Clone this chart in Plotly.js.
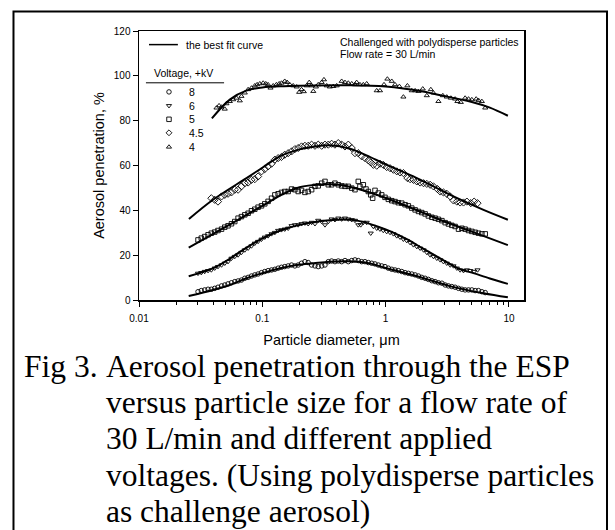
<!DOCTYPE html>
<html>
<head>
<meta charset="utf-8">
<script src="https://cdn.plot.ly/plotly-3.0.1.min.js"></script>
<style>html,body{margin:0;padding:0;background:#fff;}#chart{width:615px;height:530px;}</style>
</head>
<body>
<div id="chart"></div>
<script>
// ---- data (diameter in um, penetration in %) ----
const d8 = [0.0301,0.0320,0.0341,0.0363,0.0386,0.0411,0.0437,0.0467,0.0496,0.0527,0.0562,0.0598,0.0636,0.0677,0.0721,0.0767,0.0817,0.0869,0.0924,0.0985,0.1047,0.1114,0.1188,0.1264,0.1344,0.143,0.152,0.162,0.1727,0.1837,0.1954,0.208,0.2215,0.2355,0.251,0.2672,0.284,0.303,0.3222,0.3428,0.3648,0.388,0.4129,0.44,0.468,0.498,0.531,0.564,0.600,0.639,0.680,0.724,0.771,0.820,0.873,0.929,0.988,1.052,1.121,1.192,1.268,1.351,1.438,1.528,1.629,1.734,1.846,1.963,2.09,2.22,2.37,2.52,2.68,2.86,3.04,3.23,3.44,3.66,3.90,4.15,4.41,4.70,5.00,5.32,5.66,6.03,6.42];
const p8 = [3.7,4.2,4.5,4.8,4.8,5.2,5.7,6.3,6.7,7.2,7.7,8.2,8.5,8.9,9.7,10.1,10.7,11.2,11.6,12.2,12.7,13.1,13.4,13.7,14.2,14.6,14.9,15.2,15.6,15.2,15.6,16.4,17.1,16.7,15.6,15.2,14.9,15.2,15.6,17.1,17.4,17.1,17.4,17.1,17.6,17.1,17.6,17.9,17.6,17.1,17.1,16.7,16.4,16.1,15.6,15.2,14.9,14.2,13.7,13.4,13.1,12.7,12.2,11.9,11.6,11.2,10.7,10.1,9.7,9.2,8.6,8.2,7.7,7.5,6.7,6.3,6.0,5.7,5.2,4.8,4.5,4.5,4.5,4.2,4.2,3.7,3.3];

const d6 = [0.0301,0.0320,0.0341,0.0363,0.0386,0.0411,0.0437,0.0467,0.0496,0.0527,0.0562,0.0598,0.0636,0.0677,0.0721,0.0767,0.0817,0.0869,0.0924,0.0985,0.1047,0.1114,0.1188,0.1264,0.1344,0.143,0.152,0.162,0.1727,0.1837,0.1954,0.208,0.2215,0.2355,0.251,0.2672,0.284,0.303,0.3222,0.3428,0.3648,0.388,0.4129,0.44,0.468,0.498,0.531,0.564,0.600,0.628,0.659,0.702,0.757,0.795,0.847,0.900,0.957,1.02,1.086,1.156,1.231,1.310,1.393,1.482,1.579,1.680,1.79,1.905,2.03,2.157,2.296,2.44,2.60,2.77,2.94,3.13,3.34,3.55,3.78,4.02,4.28,4.56,4.85,5.22,5.56];
const p6 = [11.9,12.2,12.7,13.1,13.4,14.2,14.9,15.6,16.4,17.1,18.6,19.4,20.1,21.2,22.3,23.1,24.1,25.3,26.1,27.1,28.0,28.6,29.5,30.1,31.0,31.3,31.6,32.0,33.1,33.5,33.5,34.0,34.3,34.0,34.6,34.0,35.5,35.0,33.5,35.0,36.1,35.8,36.5,36.1,36.5,36.1,35.8,35.5,33.5,33.5,34.6,34.6,29.8,32.8,32.0,31.6,31.0,30.5,30.1,29.5,28.6,28.0,27.1,26.5,25.6,24.6,23.8,23.1,22.3,21.2,20.1,19.4,18.6,17.9,17.1,16.4,15.6,15.2,14.2,13.4,13.1,13.4,13.1,12.7,13.4];

const d5 = [0.0301,0.0320,0.0341,0.0363,0.0386,0.0411,0.0437,0.0467,0.0496,0.0527,0.0562,0.0598,0.0636,0.0677,0.0721,0.0767,0.0817,0.0869,0.0924,0.0985,0.1047,0.1114,0.1188,0.1264,0.1344,0.143,0.152,0.162,0.1727,0.1837,0.1954,0.208,0.2215,0.2355,0.251,0.2672,0.284,0.303,0.3222,0.3428,0.3648,0.388,0.4129,0.44,0.468,0.498,0.531,0.564,0.600,0.619,0.659,0.693,0.724,0.757,0.785,0.820,0.873,0.929,0.988,1.052,1.121,1.192,1.268,1.351,1.438,1.528,1.629,1.734,1.846,1.963,2.09,2.22,2.37,2.52,2.68,2.86,3.04,3.23,3.44,3.66,3.90,4.15,4.41,4.70,5.00,5.32,5.66,6.03,6.42];
const p5 = [26.8,27.6,28.3,29.1,29.8,30.3,31.0,31.6,32.5,33.1,34.0,35.0,36.5,37.2,38.0,38.7,39.8,40.5,41.4,42.0,42.9,44.0,45.4,46.9,47.4,48.0,48.4,48.4,49.5,49.2,48.4,48.9,48.0,48.4,49.2,50.7,50.9,52.1,52.9,51.4,51.4,52.1,51.4,50.9,50.7,50.7,49.9,49.2,52.9,50.7,51.4,49.5,48.4,46.9,45.4,48.9,47.7,46.9,45.8,44.9,44.3,43.9,43.4,43.2,42.5,42.0,41.0,40.2,39.5,39.0,38.4,37.5,36.9,36.5,36.0,35.4,34.5,33.9,33.3,32.8,31.6,32.0,31.6,31.0,30.6,30.2,29.8,29.5,29.5];

const d45 = [0.0386,0.0411,0.0437,0.0467,0.0496,0.0527,0.0562,0.0598,0.0636,0.0677,0.0721,0.0767,0.0817,0.0869,0.0924,0.0985,0.1047,0.1114,0.1188,0.1264,0.1344,0.143,0.152,0.162,0.1727,0.1837,0.1954,0.208,0.2215,0.2355,0.251,0.2672,0.284,0.303,0.3222,0.3428,0.3648,0.388,0.4129,0.44,0.468,0.498,0.531,0.564,0.600,0.639,0.680,0.724,0.757,0.795,0.847,0.900,0.957,1.02,1.086,1.156,1.231,1.310,1.393,1.501,1.579,1.680,1.79,1.905,2.03,2.157,2.296,2.44,2.63,2.77,2.94,3.13,3.34,3.55,3.78,4.02,4.28,4.56,4.91,5.22,5.56];
const p45 = [45.4,44.7,43.9,46.2,46.9,47.4,48.0,49.2,49.2,50.7,52.1,52.4,53.6,53.9,55.1,57.4,58.4,59.6,60.8,62.6,63.3,63.8,64.8,65.5,66.3,67.3,67.8,68.5,68.8,68.8,69.3,68.8,69.3,68.8,69.3,69.3,69.7,69.3,70.0,69.3,68.5,69.3,67.8,65.5,65.5,64.1,63.3,62.3,61.4,60.3,59.9,60.8,60.3,59.3,58.8,58.1,57.4,56.9,56.6,54.4,53.9,53.6,52.9,52.4,52.1,51.8,51.4,50.7,49.5,48.4,48.0,47.4,46.2,44.4,43.9,43.5,43.5,43.9,43.2,43.9,43.2];

const d4 = [0.0425,0.0446,0.0467,0.0496,0.0512,0.0545,0.058,0.0617,0.0657,0.0677,0.0721,0.0767,0.0817,0.0869,0.0908,0.0955,0.1016,0.1067,0.1114,0.1165,0.1225,0.130,0.137,0.143,0.152,0.159,0.167,0.178,0.190,0.199,0.208,0.217,0.229,0.240,0.251,0.259,0.272,0.284,0.303,0.316,0.333,0.353,0.376,0.401,0.440,0.468,0.498,0.531,0.564,0.582,0.619,0.659,0.702,0.847,0.900,0.970,1.033,1.121,1.192,1.292,1.393,1.501,1.629,1.734,1.846,2.00,2.157,2.325,2.44,2.68,2.91,3.13,3.38,3.66,3.82,4.07,4.41,4.70,5.00,5.42,5.66,6.03,6.42];
const p4 = [85.7,86.7,86.1,85.2,87.6,88.6,89.4,90.1,88.9,90.9,92.4,93.9,94.6,95.6,96.1,96.5,96.8,96.5,96.1,94.6,95.6,96.1,96.5,96.8,97.6,97.1,96.1,95.6,95.1,92.7,93.9,93.0,95.6,97.1,95.6,93.1,95.1,96.1,97.1,98.3,95.6,95.1,95.3,95.6,97.6,97.1,96.8,96.5,96.1,97.1,96.1,96.1,96.5,93.4,93.4,96.1,98.6,97.6,96.1,95.3,90.6,95.6,93.4,93.4,93.1,94.2,91.2,93.9,92.4,88.6,91.2,90.6,90.1,89.7,88.6,88.2,90.1,89.7,89.4,89.7,89.1,88.6,85.7];

// best fit curves
const f8x = [0.0253,0.0398,0.0545,0.0745,0.1,0.14,0.19,0.26,0.35,0.5,0.7,1,1.8,3.3,6.2,9.8];
const f8y = [1.8,4.5,6.7,9.7,12,14.2,15.6,16.4,17.1,17.3,16.6,14.3,10.6,6.2,3.0,1.2];
const f6x = [0.0253,0.04,0.055,0.075,0.1,0.14,0.2,0.3,0.45,0.6,1,1.5,2,3,4,5,7,9.8];
const f6y = [10.6,14.2,18.6,23.5,27.5,31,33.5,35.2,35.9,35.3,31.5,27,23,17.5,13.8,12.2,9.6,7.2];
const f5x = [0.0253,0.04,0.06,0.1,0.15,0.2,0.3,0.4,0.6,1,2,3,5,9.8];
const f5y = [23.4,29.5,35,42,47.5,50.3,51.5,51.5,49.5,45.5,39,35,30.5,24.5];
const f45x = [0.0254,0.0398,0.0745,0.1,0.139,0.2,0.26,0.35,0.514,0.7,1,1.79,3.34,6.22,9.8];
const f45y = [36.1,44.7,54.4,59,64.1,67.2,68.4,69.0,67.5,64.5,60.5,54.4,46.9,40.2,35.8];
const f4x = [0.039,0.0545,0.075,0.1,0.15,0.2,0.5,1,2,2.44,5,7,9.8];
const f4y = [81,89.4,93.5,94.8,95.4,95.6,95.8,95.2,93.0,92.0,88.3,85.8,82.2];

const voltages = ['8','6','5','4.5','4'];
const symbols = ['circle-open','triangle-down-open','square-open','diamond-open','triangle-up-open'];
const xTickVals = [0.01,0.1,1,10];
const xTickText = ['0.01','0.1','1','10'];
const yTickVals = [0,20,40,60,80,100,120];
const captionFirst = 'Fig 3.';
const captionLines = ['Aerosol penetration through the ESP','versus particle size for a flow rate of','30 L/min and different applied','voltages. (Using polydisperse particles','as challenge aerosol)'];

// ---- build ----
const minorX = [];
[0.01,0.1,1].forEach(dec => { for (let m = 2; m <= 9; m++) minorX.push(+(m*dec).toPrecision(3)); });

const series = [[d8,p8],[d6,p6],[d5,p5],[d45,p45],[d4,p4]];
const fits = [[f8x,f8y],[f6x,f6y],[f5x,f5y],[f45x,f45y],[f4x,f4y]];
const traces = [];
series.forEach((s,i) => {
  traces.push({x:s[0], y:s[1], type:'scatter', mode:'markers', name:voltages[i]+' kV', showlegend:false,
    marker:{symbol:symbols[i], size:(i===3?5.5:4.5), color:'#000', line:{width:0.9,color:'#000'}}});
});
fits.forEach((f,i) => {
  traces.push({x:f[0], y:f[1], type:'scatter', mode:'lines', showlegend:false,
    line:{color:'#000', width:2, shape:'spline', smoothing:1}});
});

// legend key markers on a hidden overlay axis (0..1 in plot-area fractions)
const rowY = [0.7736,0.7223,0.6717,0.6216,0.5688];
traces.push({x:rowY.map(()=>0.0779), y:rowY, xaxis:'x2', yaxis:'y2', type:'scatter', mode:'markers', showlegend:false,
  marker:{symbol:symbols, size:4.5, color:'#000', line:{width:0.9,color:'#000'}}, hoverinfo:'skip'});

const F = 'Liberation Sans, Arial, sans-serif';
const annotations = [];
voltages.forEach((v,i) => annotations.push({xref:'paper', yref:'paper', x:0.1247, y:rowY[i], xanchor:'left', yanchor:'middle', text:v, showarrow:false, font:{family:F, size:10.5, color:'#000'}}));
annotations.push({xref:'paper', yref:'paper', x:0.1156, y:0.9494, xanchor:'left', yanchor:'middle', text:'the best fit curve', showarrow:false, font:{family:F, size:10.5, color:'#000'}});
annotations.push({xref:'paper', yref:'paper', x:0.0338, y:0.8454, xanchor:'left', yanchor:'middle', text:'Voltage, +kV', showarrow:false, font:{family:F, size:10.5, color:'#000'}});
annotations.push({xref:'paper', yref:'paper', x:0.5169, y:0.9584, xanchor:'left', yanchor:'middle', text:'Challenged with polydisperse particles', showarrow:false, font:{family:F, size:10.5, color:'#000'}});
annotations.push({xref:'paper', yref:'paper', x:0.5169, y:0.9145, xanchor:'left', yanchor:'middle', text:'Flow rate = 30 L/min', showarrow:false, font:{family:F, size:10.5, color:'#000'}});

const CF = 'Liberation Serif, Times New Roman, serif';
// caption line centres at y = 366, 402.5, 439, 475, 511 px
const capY = [-0.2454,-0.3810,-0.5167,-0.6506,-0.7844];
annotations.push({xref:'paper', yref:'paper', x:-0.305, y:capY[0], xanchor:'left', yanchor:'middle', text:captionFirst, showarrow:false, font:{family:CF, size:31.5, color:'#000'}});
captionLines.forEach((t,i) => annotations.push({xref:'paper', yref:'paper', x:-0.0909, y:capY[i], xanchor:'left', yanchor:'middle', text:t, showarrow:false, font:{family:CF, size:31.5, color:'#000'}}));

const shapes = [
  {type:'line', xref:'paper', yref:'paper', x0:0.026, x1:0.101, y0:0.9494, y1:0.9494, line:{color:'#000', width:1.5}},
  {type:'line', xref:'paper', yref:'paper', x0:0.018, x1:0.221, y0:0.8074, y1:0.8074, line:{color:'#000', width:1}},
  {type:'rect', xref:'paper', yref:'paper', x0:-0.326, x1:1.2156, y0:-0.874, y1:1.0725, line:{color:'#000', width:2}}
];

const layout = {
  width:615, height:530,
  margin:{l:139, r:91, t:31, b:230, pad:0},
  paper_bgcolor:'#fff', plot_bgcolor:'#fff',
  showlegend:false,
  font:{family:F, color:'#000'},
  xaxis:{type:'log', range:[-2, 1.122], tickmode:'array', tickvals:xTickVals, ticktext:xTickText,
    ticks:'outside', ticklen:5, tickwidth:1, tickcolor:'#000', showgrid:false, zeroline:false,
    showline:true, linecolor:'#000', linewidth:1.5, mirror:true, ticklabelstandoff:3,
    tickfont:{family:F, size:10, color:'#000'},
    minor:{tickmode:'array', tickvals:minorX, ticks:'outside', ticklen:3, tickwidth:1, tickcolor:'#000', showgrid:false},
    title:{text:'Particle diameter, μm', font:{family:F, size:14.5, color:'#000'}, standoff:12}},
  yaxis:{range:[0,120], tickmode:'array', tickvals:yTickVals, ticks:'outside', ticklen:5, tickwidth:1, tickcolor:'#000',
    showgrid:false, zeroline:false, showline:true, linecolor:'#000', linewidth:1.5, mirror:true,
    tickfont:{family:F, size:10, color:'#000'},
    title:{text:'Aerosol penetration, %', font:{family:F, size:14.5, color:'#000'}, standoff:5}},
  xaxis2:{overlaying:'x', anchor:'y2', range:[0,1], visible:false, fixedrange:true},
  yaxis2:{overlaying:'y', anchor:'x2', range:[0,1], visible:false, fixedrange:true},
  annotations:annotations,
  shapes:shapes
};
Plotly.newPlot('chart', traces, layout, {displayModeBar:false, staticPlot:true});
</script>
</body>
</html>
